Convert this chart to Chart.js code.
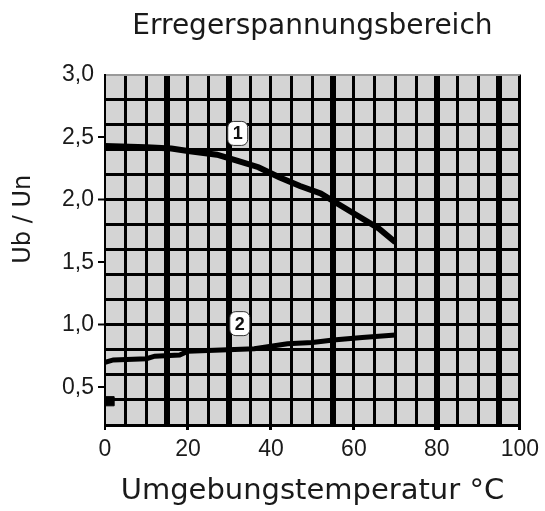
<!DOCTYPE html>
<html>
<head>
<meta charset="utf-8">
<script src="https://cdn.jsdelivr.net/npm/chart.js@4.4.0/dist/chart.umd.min.js"></script>
<style>
body { margin: 0; background: #fff; }
#wrap { width: 545px; height: 511px; }
</style>
</head>
<body>
<div id="wrap"><canvas id="grafico"></canvas></div>
<script>
// Kennlinie 1 (obere Grenze)
const temp1 = [0, 10, 16, 20, 27, 32, 37, 42, 47, 52, 57, 61, 66, 70];
const ub1 = [2.43, 2.42, 2.41, 2.39, 2.36, 2.31, 2.26, 2.18, 2.11, 2.05, 1.95, 1.87, 1.77, 1.66];

// Kennlinie 2 (untere Grenze)
const temp2 = [0, 2, 10, 12, 18, 20, 28, 36, 44, 50, 55, 62, 70];
const ub2 = [0.70, 0.72, 0.73, 0.75, 0.76, 0.79, 0.80, 0.81, 0.85, 0.86, 0.88, 0.90, 0.92];

// kleiner Punkt links unten
const punktX = [1.1];
const punktY = [0.39];

// Kurvenmarken
const markenText = ['1', '2'];
const markenX = [32, 32.5];
const markenY = [2.53, 1.01];

// Achsenbeschriftung
const xLabels = [0, 20, 40, 60, 80, 100];
const yLabels = [0.5, 1.0, 1.5, 2.0, 2.5, 3.0];
const xDick = [15, 30, 55, 80, 95];

const schrift = '"Liberation Sans", Arial, sans-serif';
const titelSchrift = '"DejaVu Sans", sans-serif';

function punkte(xs, ys) {
    return xs.map((x, i) => ({ x: x, y: ys[i] }));
}

// grauer Hintergrund der Zeichenfläche
const hintergrund = {
    id: 'hintergrund',
    beforeDraw(chart) {
        const a = chart.chartArea;
        const ctx = chart.ctx;
        ctx.save();
        ctx.fillStyle = '#d4d4d4';
        ctx.fillRect(a.left, a.top, a.right - a.left, a.bottom - a.top);
        ctx.restore();
    }
};

// weisse Kästchen mit Kurvennummer
const marken = {
    id: 'marken',
    afterDatasetsDraw(chart) {
        const ctx = chart.ctx;
        const sx = chart.scales.x;
        const sy = chart.scales.y;
        ctx.save();
        markenText.forEach((t, i) => {
            const px = sx.getPixelForValue(markenX[i]);
            const py = sy.getPixelForValue(markenY[i]);
            ctx.beginPath();
            ctx.roundRect(px - 10, py - 12, 20, 24, 6);
            ctx.fillStyle = '#fff';
            ctx.fill();
            ctx.lineWidth = 1;
            ctx.strokeStyle = '#333';
            ctx.stroke();
            ctx.fillStyle = '#111';
            ctx.font = 'bold 18px ' + schrift;
            ctx.textAlign = 'center';
            ctx.textBaseline = 'middle';
            ctx.fillText(t, px, py + 1);
        });
        ctx.restore();
    }
};

const ctx = document.getElementById('grafico');
new Chart(ctx, {
    type: 'line',
    data: {
        datasets: [
            {
                data: punkte(temp1, ub1),
                borderColor: '#000',
                borderWidth: 6,
                pointRadius: 0,
                tension: 0
            },
            {
                data: punkte(temp2, ub2),
                borderColor: '#000',
                borderWidth: 5,
                pointRadius: 0,
                tension: 0
            },
            {
                data: punkte(punktX, punktY),
                showLine: false,
                pointStyle: 'rect',
                pointRadius: 6.5,
                backgroundColor: '#000',
                borderColor: '#000'
            }
        ]
    },
    options: {
        responsive: true,
        maintainAspectRatio: false,
        animation: false,
        layout: { padding: { left: 0, right: 25, top: 0, bottom: 0 } },
        plugins: {
            legend: { display: false },
            tooltip: { enabled: false },
            title: {
                display: true,
                text: 'Erregerspannungsbereich',
                fullSize: false,
                color: '#1a1a1a',
                font: { family: titelSchrift, size: 28, weight: 'normal' },
                padding: { top: 10, bottom: 31 }
            }
        },
        scales: {
            x: {
                type: 'linear',
                min: 0,
                max: 100,
                afterFit: (s) => { s.height = 86; },
                border: { display: true, color: '#000', width: 2 },
                grid: {
                    color: '#000',
                    lineWidth: (c) => {
                        const v = c.tick.value;
                        if (v === 0) return 2;
                        return xDick.includes(v) ? 6 : 3;
                    },
                    tickLength: 5,
                    tickColor: (c) => xLabels.includes(c.tick.value) ? '#000' : 'rgba(0,0,0,0)'
                },
                ticks: {
                    stepSize: 5,
                    autoSkip: false,
                    maxRotation: 0,
                    padding: 6,
                    color: '#1a1a1a',
                    font: { family: schrift, size: 23 },
                    callback: (v) => xLabels.includes(v) ? String(v) : ''
                },
                title: {
                    display: true,
                    text: 'Umgebungstemperatur °C',
                    color: '#1a1a1a',
                    font: { family: titelSchrift, size: 29 },
                    padding: { top: 0, bottom: 2 }
                }
            },
            y: {
                type: 'linear',
                min: 0.2,
                max: 3.0,
                afterFit: (s) => { s.width = 105; },
                border: { display: true, color: '#000', width: 2 },
                grid: {
                    color: (c) => c.tick.value >= 3 ? '#9a9a9a' : '#000',
                    lineWidth: (c) => {
                        const zehntel = Math.round(c.tick.value * 10);
                        if (zehntel === 30) return 2;
                        return zehntel % 2 === 0 ? 3 : 0;
                    },
                    tickLength: 7,
                    tickWidth: 2,
                    tickColor: (c) => {
                        const v = Math.round(c.tick.value * 10) / 10;
                        return (yLabels.includes(v) && v < 3) ? '#000' : 'rgba(0,0,0,0)';
                    }
                },
                ticks: {
                    stepSize: 0.1,
                    autoSkip: false,
                    padding: 4,
                    color: '#1a1a1a',
                    font: { family: schrift, size: 23 },
                    callback: (v) => {
                        const w = Math.round(v * 10) / 10;
                        return yLabels.includes(w) ? w.toFixed(1).replace('.', ',') : '';
                    }
                },
                title: {
                    display: true,
                    text: '\u00a0\u00a0\u00a0\u00a0\u00a0\u00a0\u00a0\u00a0Ub / Un',
                    color: '#1a1a1a',
                    font: { family: titelSchrift, size: 24 },
                    padding: { top: 9, bottom: 0 }
                }
            }
        }
    },
    plugins: [hintergrund, marken]
});
</script>
</body>
</html>
